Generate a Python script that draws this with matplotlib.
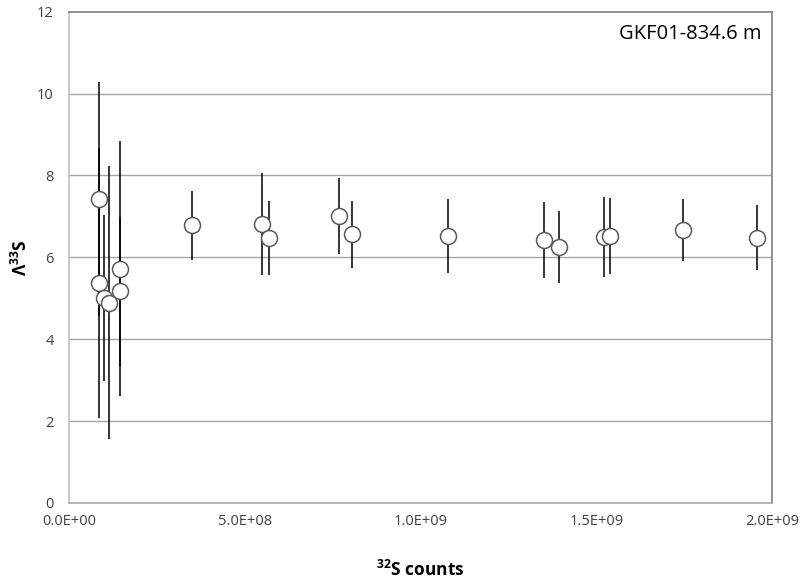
import matplotlib
matplotlib.use('Agg')
import matplotlib.pyplot as plt
import numpy as np

## Data
counts = [8.5e7, 8.5e7, 9.9e7, 1.145e8, 1.45e8, 1.45e8,
          3.50e8, 5.50e8, 5.68e8, 7.68e8, 8.05e8, 1.079e9,
          1.351e9, 1.393e9, 1.521e9, 1.540e9, 1.746e9, 1.957e9]
cap33 = [7.42, 5.37, 5.00, 4.89, 5.72, 5.17,
         6.78, 6.82, 6.47, 7.02, 6.56, 6.52,
         6.43, 6.25, 6.50, 6.52, 6.66, 6.48]
err33 = [2.86, 3.30, 2.03, 3.33, 3.11, 1.82,
         0.84, 1.24, 0.90, 0.93, 0.81, 0.90,
         0.93, 0.88, 0.98, 0.93, 0.76, 0.80]

x_ticks = [0, 5e8, 1e9, 1.5e9, 2e9]
x_tick_labels = ['0.0E+00', '5.0E+08', '1.0E+09', '1.5E+09', '2.0E+09']
y_ticks = [0, 2, 4, 6, 8, 10, 12]
sample_name = 'GKF01-834.6 m'

plt.rcParams['font.family'] = ['Open Sans', 'DejaVu Sans']
plt.rcParams['mathtext.fontset'] = 'custom'
plt.rcParams['mathtext.rm'] = 'Open Sans'
plt.rcParams['mathtext.bf'] = 'Open Sans:bold'

fig = plt.figure(figsize=(8.03, 5.85), dpi=100)
ax = fig.add_axes([0.0859, 0.1402, 0.8755, 0.8398])

# gridlines (Excel style)
for yv in y_ticks[1:-1]:
    ax.axhline(yv, color='#a6a6a6', lw=1.0, zorder=0)

# error bars first, then markers on top
ax.errorbar(counts, cap33, yerr=err33, fmt='none', ecolor='black',
            elinewidth=1.1, capsize=0, zorder=2)
ax.plot(counts, cap33, 'o', ms=11.5, mfc='white', mec='#595959',
        mew=1.1, zorder=3, linestyle='none')

ax.set_xlim(0, 2e9)
ax.set_ylim(0, 12)
ax.set_xticks(x_ticks)
ax.set_xticklabels(x_tick_labels)
ax.set_yticks(y_ticks)
ax.tick_params(axis='both', length=0, labelsize=10.5, colors='#404040')
ax.tick_params(axis='y', pad=11)
ax.tick_params(axis='x', pad=8)

ax.spines['left'].set_color('#c0c0c0')
ax.spines['bottom'].set_color('#a6a6a6')
ax.spines['top'].set_color('#7f7f7f')
ax.spines['right'].set_color('#7f7f7f')
for s in ax.spines.values():
    s.set_linewidth(1.2)

ax.set_xlabel(r'$\mathbf{^{32}S}$ counts', fontsize=12.5, fontweight='bold',
              labelpad=22)
ax.set_ylabel(r'$\mathbf{\Lambda^{33}S}$', fontsize=12.5, fontweight='bold',
              labelpad=4)

ax.text(0.985, 0.955, sample_name, transform=ax.transAxes, ha='right',
        va='center', fontsize=14.5, color='black')

fig.savefig('out.png', dpi=100)
